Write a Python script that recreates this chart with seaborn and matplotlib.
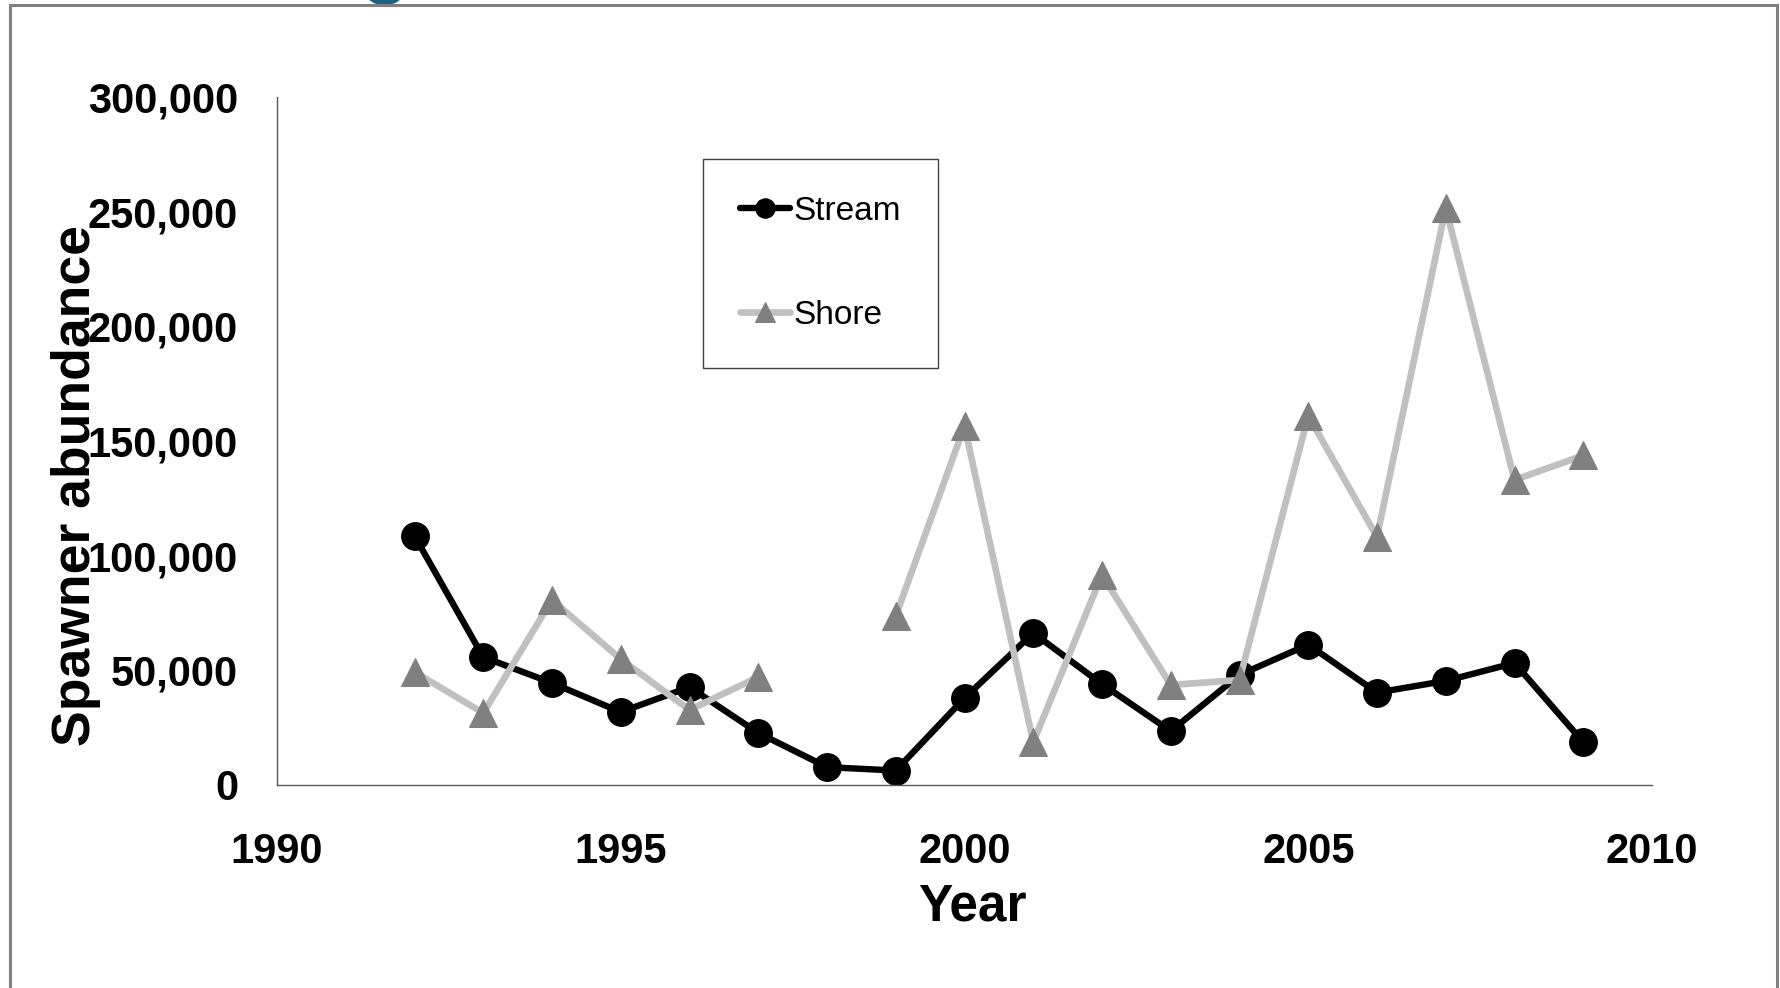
'''
Spawner abundance by year, stream vs shore spawners.
'''

import numpy as np
import pandas as pd
import seaborn as sns
import matplotlib.pyplot as plt
from matplotlib.ticker import StrMethodFormatter
from matplotlib.patches import Rectangle

# %% data
years = [1992, 1993, 1994, 1995, 1996, 1997, 1998, 1999, 2000,
         2001, 2002, 2003, 2004, 2005, 2006, 2007, 2008, 2009]
stream = [108600, 55800, 44500, 31800, 42700, 22700, 7800, 6300, 37900,
          66300, 44000, 23500, 48000, 61200, 40300, 45400, 53200, 18700]
# no shore count for 1998 -> gap in the line
shore = [49300, 31400, 80700, 54900, 32700, 47100, np.nan, 73700, 156600,
         18700, 91600, 43600, 45800, 161000, 108200, 251600, 133000, 143700]

x_ticks = [1990, 1995, 2000, 2005, 2010]
y_ticks = [0, 50000, 100000, 150000, 200000, 250000, 300000]

# %% tidy
df_stream = pd.DataFrame({'Year': years, 'abundance': stream})
df_shore = pd.DataFrame({'Year': years, 'abundance': shore})
# split shore into runs so missing years break the line
df_shore['run'] = df_shore['abundance'].isna().cumsum()
df_shore = df_shore.dropna()

# %% plot
sns.set_style('white')
plt.rcParams['font.family'] = ['Liberation Sans', 'DejaVu Sans']
plt.rcParams['text.color'] = 'black'
plt.rcParams['xtick.color'] = 'black'
plt.rcParams['ytick.color'] = 'black'
plt.rcParams['axes.labelcolor'] = 'black'

fig = plt.figure(figsize=(17.81, 9.88), dpi=100)
ax = fig.add_axes([277/1781, 1-785/988, (1652-277)/1781, (785-97)/988])

sns.lineplot(data=df_stream, x='Year', y='abundance', ax=ax,
             color='black', linewidth=4.6,
             marker='o', markersize=20,
             markerfacecolor='black', markeredgecolor='black',
             label='Stream')
sns.lineplot(data=df_shore, x='Year', y='abundance', ax=ax,
             units='run', estimator=None,
             color='#c0c0c0', linewidth=4.8,
             marker='^', markersize=20,
             markerfacecolor='#808080', markeredgecolor='#808080')

ax.set(xlim=(1990, 2010), ylim=(0, 300000))
ax.set_xticks(x_ticks)
ax.set_yticks(y_ticks)
ax.yaxis.set_major_formatter(StrMethodFormatter('{x:,.0f}'))

sns.despine(ax=ax)
for side in ['left', 'bottom']:
    ax.spines[side].set_color('#595959')
    ax.spines[side].set_linewidth(1.0)
ax.tick_params(axis='both', direction='out', length=9.5, width=1.0,
               color='#595959', labelcolor='black', labelsize=30)
ax.tick_params(axis='y', pad=18.5)
ax.tick_params(axis='x', pad=24)
for lab in ax.get_xticklabels() + ax.get_yticklabels():
    lab.set_fontweight('bold')

ax.set_xlabel('Year', fontsize=37, fontweight='bold', labelpad=8)
ax.xaxis.label.set_x(0.5055)
ax.set_ylabel('Spawner abundance', fontsize=38.5, fontweight='bold', va='center')
ax.yaxis.set_label_coords(-0.146, 0.4346)

# legend
lines = ax.get_lines()
handles = [lines[0], lines[1]]
leg = ax.legend(handles, ['Stream', 'Shore'],
                loc='upper left',
                bbox_to_anchor=(703/1781, 1-159/988),
                bbox_transform=fig.transFigure,
                borderaxespad=0, fontsize=24, markerscale=0.7,
                handlelength=1.5, handletextpad=0.12,
                labelspacing=2.2, borderpad=1.1,
                frameon=True, fancybox=False, framealpha=1)
leg.get_frame().set_edgecolor('#404040')
leg.get_frame().set_linewidth(1.0)
for t in leg.get_texts():
    t.set_color('black')

# slide leftovers: title glyph peeking in at the top and the slide frame
fig.text(385/1781, 1.012, 'g', fontsize=58, fontweight='bold',
         color='#1b6583', ha='center', va='baseline')
fig.patches.append(Rectangle((10/1781, -0.1), (1777-10)/1781, 1-5.5/988+0.1,
                             transform=fig.transFigure, fill=False,
                             edgecolor='#808080', linewidth=2.2, zorder=5))

plt.savefig('out.png', dpi=100)
